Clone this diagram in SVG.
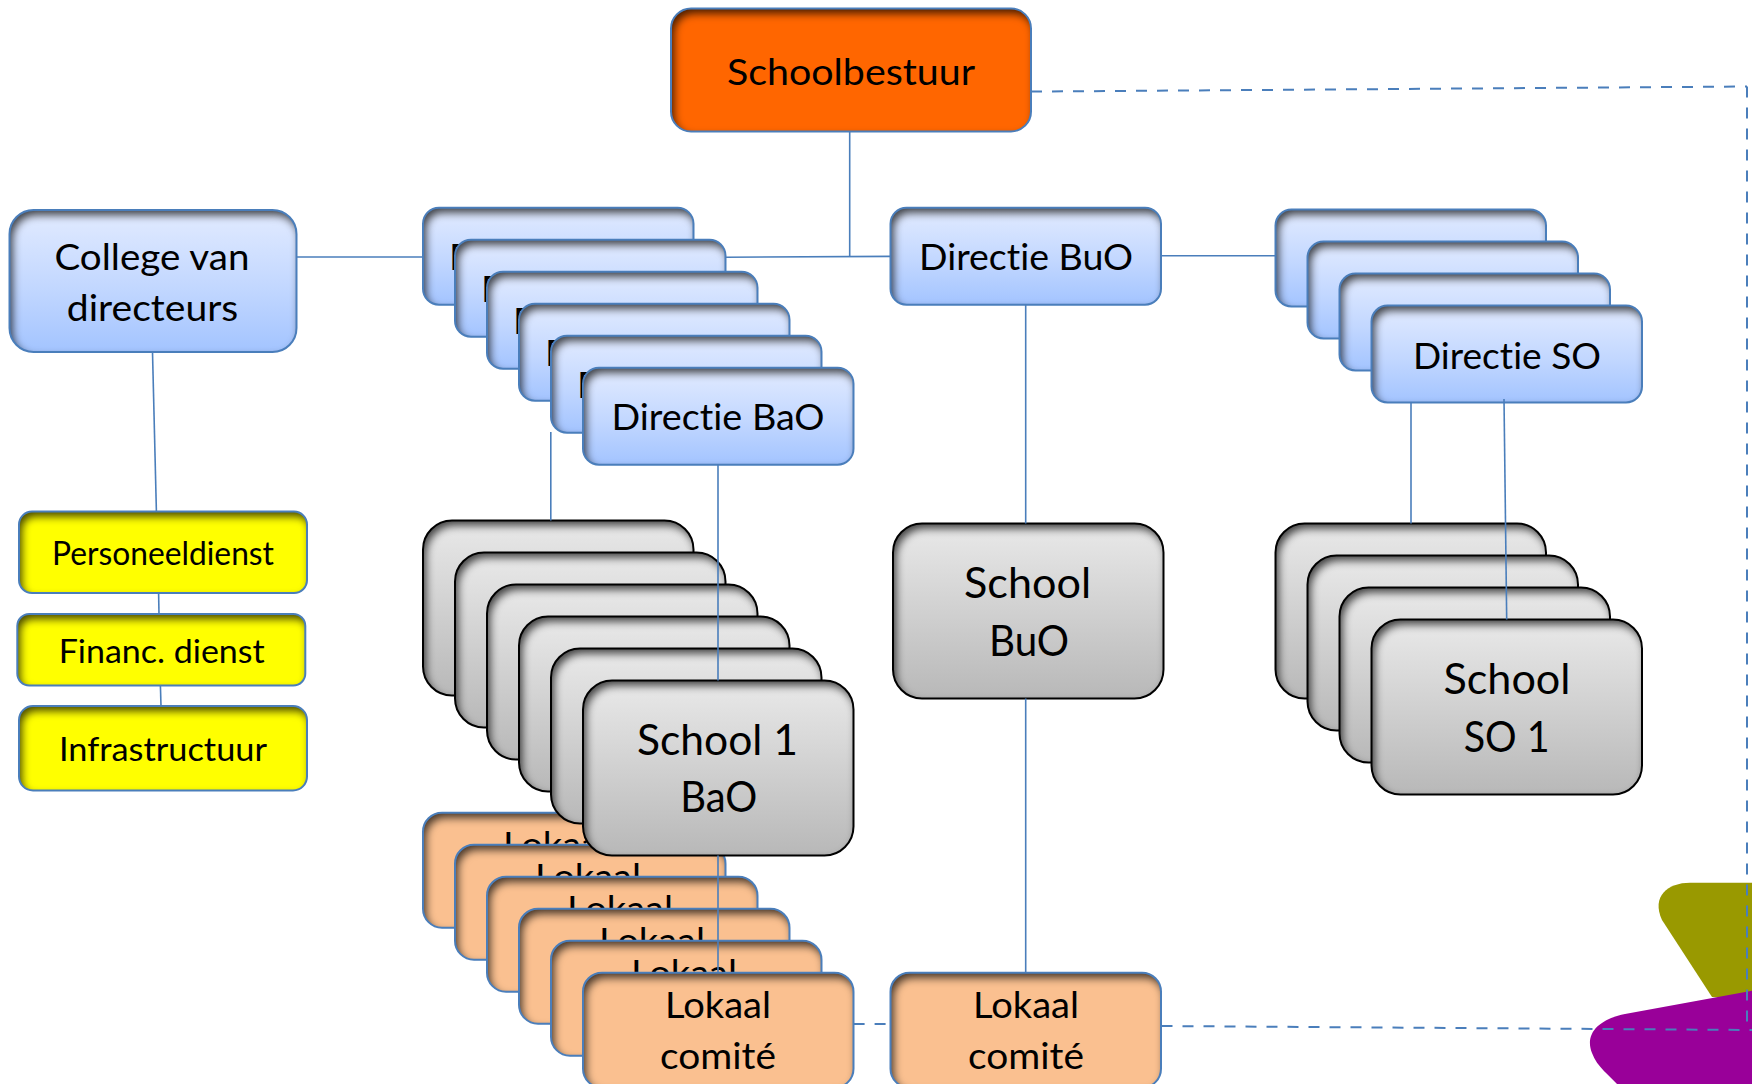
<svg xmlns="http://www.w3.org/2000/svg" width="1752" height="1084" viewBox="0 0 1752 1084">
<style>
text{font-family:"Lato","Carlito","Noto Sans",sans-serif;fill:#000;text-anchor:middle;font-variant-ligatures:none}
.n{font-size:37px}.l{font-size:43px}.s{font-size:32px}
.edge{fill:none;stroke:#4a7ebb;stroke-width:2}
.edgek{fill:none;stroke:#000;stroke-width:2}
.c{fill:none;stroke:#4a7ebb;stroke-width:1.6}
.d{fill:none;stroke:#4a7ebb;stroke-width:2;stroke-dasharray:11 10}
</style>
<defs>
<linearGradient id="gb" x1="0" y1="0" x2="0" y2="1"><stop offset="0" stop-color="#e2ebff"/><stop offset=".55" stop-color="#c2d7ff"/><stop offset="1" stop-color="#a3c4ff"/></linearGradient>
<linearGradient id="gg" x1="0" y1="0" x2="0" y2="1"><stop offset="0" stop-color="#e9e9e9"/><stop offset="1" stop-color="#b8b8b8"/></linearGradient>
<filter id="ins" x="-15%" y="-35%" width="130%" height="170%" color-interpolation-filters="sRGB">
<feComponentTransfer in="SourceAlpha" result="inv"><feFuncA type="table" tableValues="1 0"/></feComponentTransfer>
<feGaussianBlur in="inv" stdDeviation="4" result="bl"/>
<feOffset in="bl" dx="3" dy="5" result="of"/>
<feFlood flood-color="#000" flood-opacity=".72"/>
<feComposite in2="of" operator="in" result="sh"/>
<feComposite in="sh" in2="SourceAlpha" operator="in" result="shi"/>
<feMerge><feMergeNode in="SourceGraphic"/><feMergeNode in="shi"/></feMerge>
</filter>
<g id="dir"><rect width="270.5" height="97" rx="16" fill="url(#gb)" filter="url(#ins)"/><rect class="edge" width="270.5" height="97" rx="16"/></g>
<g id="col"><rect width="287" height="142" rx="24" fill="url(#gb)" filter="url(#ins)"/><rect class="edge" width="287" height="142" rx="24"/></g>
<g id="top"><rect width="360" height="123" rx="20" fill="#ff6600" filter="url(#ins)"/><rect class="edge" width="360" height="123" rx="20"/></g>
<g id="sch"><rect width="270.5" height="175" rx="29" fill="url(#gg)" filter="url(#ins)"/><rect class="edgek" width="270.5" height="175" rx="29"/></g>
<g id="lok"><rect width="270.5" height="115" rx="19" fill="#fac090" filter="url(#ins)"/><rect class="edge" width="270.5" height="115" rx="19"/></g>
<g id="y1"><rect width="288" height="81.5" rx="13" fill="#ffff00" filter="url(#ins)"/><rect class="edge" width="288" height="81.5" rx="13"/></g>
<g id="y2"><rect width="288" height="71.5" rx="12" fill="#ffff00" filter="url(#ins)"/><rect class="edge" width="288" height="71.5" rx="12"/></g>
<g id="y3"><rect width="288" height="84.5" rx="14" fill="#ffff00" filter="url(#ins)"/><rect class="edge" width="288" height="84.5" rx="14"/></g>
</defs>
<rect width="1752" height="1084" fill="#fff"/>
<g id="shapes">
<path fill="#999900" d="M1752 882.7H1690C1668 882.7 1651 896 1662 920L1712 997L1752 1000Z"/>
<path fill="#990099" d="M1752 990.7L1625 1014C1600 1019 1584 1033 1592 1053C1597 1067 1610 1076 1617 1084H1752Z"/>
</g>
<g id="schoolbestuur"><use href="#top" x="671" y="8.5"/><text class="n" x="851" y="84.7" textLength="248" lengthAdjust="spacingAndGlyphs">Schoolbestuur</text></g>
<g id="college"><use href="#col" x="9.5" y="210"/><text class="n" x="152" y="269.6" textLength="195" lengthAdjust="spacingAndGlyphs">College van</text><text class="n" x="152.5" y="320.8" textLength="171.5" lengthAdjust="spacingAndGlyphs">directeurs</text></g>
<g id="directie-bao-stack">
<g id="directie-bao-6"><use href="#dir" x="423" y="207.7"/><text class="n" x="555.5" y="270" textLength="213" lengthAdjust="spacingAndGlyphs">Directie BaO</text></g>
<g id="directie-bao-5"><use href="#dir" x="455" y="239.7"/><text class="n" x="587.5" y="302" textLength="213" lengthAdjust="spacingAndGlyphs">Directie BaO</text></g>
<g id="directie-bao-4"><use href="#dir" x="487" y="271.7"/><text class="n" x="619.5" y="334" textLength="213" lengthAdjust="spacingAndGlyphs">Directie BaO</text></g>
<g id="directie-bao-3"><use href="#dir" x="519" y="303.7"/><text class="n" x="651.5" y="366" textLength="213" lengthAdjust="spacingAndGlyphs">Directie BaO</text></g>
<g id="directie-bao-2"><use href="#dir" x="551" y="335.7"/><text class="n" x="683.5" y="398" textLength="213" lengthAdjust="spacingAndGlyphs">Directie BaO</text></g>
<g id="directie-bao-1"><use href="#dir" x="583" y="367.7"/><text class="n" x="718" y="430.4" textLength="213" lengthAdjust="spacingAndGlyphs">Directie BaO</text></g>
</g>
<g id="directie-buo"><use href="#dir" x="890.5" y="207.7"/><text class="n" x="1026" y="270.3" textLength="214" lengthAdjust="spacingAndGlyphs">Directie BuO</text></g>
<g id="directie-so-stack">
<g id="directie-so-4"><use href="#dir" x="1275.5" y="209.5"/></g>
<g id="directie-so-3"><use href="#dir" x="1307.5" y="241.5"/></g>
<g id="directie-so-2"><use href="#dir" x="1339.5" y="273.5"/></g>
<g id="directie-so-1"><use href="#dir" x="1371.5" y="305.5"/><text class="n" x="1507" y="368.5" textLength="188" lengthAdjust="spacingAndGlyphs">Directie SO</text></g>
</g>
<g id="personeeldienst"><use href="#y1" x="19" y="511.6"/><text class="s" x="163" y="565" textLength="222" lengthAdjust="spacingAndGlyphs">Personeeldienst</text></g>
<g id="financ"><use href="#y2" x="17.3" y="614"/><text class="s" x="161.7" y="663" textLength="206" lengthAdjust="spacingAndGlyphs">Financ. dienst</text></g>
<g id="infrastructuur"><use href="#y3" x="19" y="706"/><text class="s" x="163" y="760.8" textLength="208" lengthAdjust="spacingAndGlyphs">Infrastructuur</text></g>
<g id="lokaal-bao-stack">
<g id="lokaal-bao-6"><use href="#lok" x="423" y="812.7"/><text class="n" x="556" y="858.3" textLength="106" lengthAdjust="spacingAndGlyphs">Lokaal</text></g>
<g id="lokaal-bao-5"><use href="#lok" x="455" y="844.7"/><text class="n" x="588" y="890.3" textLength="106" lengthAdjust="spacingAndGlyphs">Lokaal</text></g>
<g id="lokaal-bao-4"><use href="#lok" x="487" y="876.7"/><text class="n" x="620" y="922.3" textLength="106" lengthAdjust="spacingAndGlyphs">Lokaal</text></g>
<g id="lokaal-bao-3"><use href="#lok" x="519" y="908.7"/><text class="n" x="652" y="954.3" textLength="106" lengthAdjust="spacingAndGlyphs">Lokaal</text></g>
<g id="lokaal-bao-2"><use href="#lok" x="551" y="940.7"/><text class="n" x="684" y="986.3" textLength="106" lengthAdjust="spacingAndGlyphs">Lokaal</text></g>
<g id="lokaal-bao-1"><use href="#lok" x="583" y="972.7"/><text class="n" x="718" y="1018.3" textLength="106" lengthAdjust="spacingAndGlyphs">Lokaal</text><text class="n" x="718" y="1069" textLength="116" lengthAdjust="spacingAndGlyphs">comité</text></g>
</g>
<g id="lokaal-buo"><use href="#lok" x="890.5" y="972.7"/><text class="n" x="1026" y="1018.3" textLength="106" lengthAdjust="spacingAndGlyphs">Lokaal</text><text class="n" x="1026" y="1069" textLength="116" lengthAdjust="spacingAndGlyphs">comité</text></g>
<g id="school-bao-stack">
<g id="school-bao-6"><use href="#sch" x="423" y="520.5"/></g>
<g id="school-bao-5"><use href="#sch" x="455" y="552.5"/></g>
<g id="school-bao-4"><use href="#sch" x="487" y="584.5"/></g>
<g id="school-bao-3"><use href="#sch" x="519" y="616.5"/></g>
<g id="school-bao-2"><use href="#sch" x="551" y="648.5"/></g>
<g id="school-bao-1"><use href="#sch" x="583" y="680.5"/><text class="l" x="717.5" y="754.5" textLength="161" lengthAdjust="spacingAndGlyphs">School 1</text><text class="l" x="718.7" y="812" textLength="77" lengthAdjust="spacingAndGlyphs">BaO</text></g>
</g>
<g id="school-buo"><use href="#sch" x="893" y="523.5"/><text class="l" x="1027.6" y="598" textLength="127" lengthAdjust="spacingAndGlyphs">School</text><text class="l" x="1029" y="656" textLength="80" lengthAdjust="spacingAndGlyphs">BuO</text></g>
<g id="school-so-stack">
<g id="school-so-4"><use href="#sch" x="1275.5" y="523.5"/></g>
<g id="school-so-3"><use href="#sch" x="1307.5" y="555.5"/></g>
<g id="school-so-2"><use href="#sch" x="1339.5" y="587.5"/></g>
<g id="school-so-1"><use href="#sch" x="1371.5" y="619.5"/><text class="l" x="1507" y="694" textLength="127" lengthAdjust="spacingAndGlyphs">School</text><text class="l" x="1506.7" y="751.5" textLength="86" lengthAdjust="spacingAndGlyphs">SO 1</text></g>
</g>
<g id="connectors">
<path class="c" d="M849.7 131.5V256.8"/>
<path class="c" d="M297 257H423"/>
<path class="c" d="M726 257.2L890.5 256.4"/>
<path class="c" d="M1161 255.8H1275.5"/>
<path class="c" d="M152.5 352L156.4 511.6"/>
<path class="c" d="M158.6 593L159 614"/>
<path class="c" d="M160.4 685.5L161 706"/>
<path class="c" d="M550.8 432V520.5"/>
<path class="c" d="M718 464.7V680.5"/>
<path class="c" d="M718 855.5V972.7"/>
<path class="c" d="M1025.7 304.7V523.5"/>
<path class="c" d="M1025.7 698.5V972.7"/>
<path class="c" d="M1411 402.5V523.5"/>
<path class="c" d="M1504 399L1506.7 619.5"/>
<path class="d" d="M853.6 1024H890.5"/>
<path class="d" d="M1031 91.6L1747 86.5"/>
<path class="d" d="M1747 86.5V1030"/>
<path class="d" d="M1161.5 1026L1752 1030"/>
</g>
</svg>
